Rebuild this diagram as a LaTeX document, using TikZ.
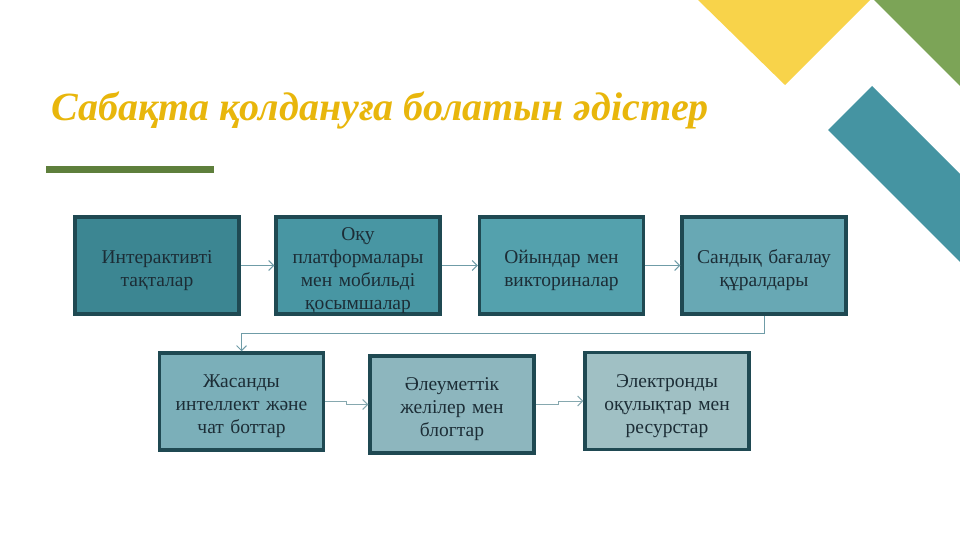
\documentclass[tikz,border=0pt]{standalone}
\usepackage{fontspec}
\setmainfont{Liberation Serif}
\usepackage{xcolor}
\usetikzlibrary{arrows.meta,positioning}

\definecolor{titlegold}{HTML}{E8B60C}
\definecolor{bargreen}{HTML}{5E7F3C}
\definecolor{decoyellow}{HTML}{F8D34A}
\definecolor{decogreen}{HTML}{7CA457}
\definecolor{decoteal}{HTML}{4594A2}
\definecolor{edgedark}{HTML}{1F4952}
\definecolor{inkdark}{HTML}{1C2D36}
\definecolor{linkteal}{HTML}{6F9CA7}
\definecolor{linkgrey}{HTML}{86A8AF}
\definecolor{fillA}{HTML}{3C8692}
\definecolor{fillB}{HTML}{4896A3}
\definecolor{fillC}{HTML}{54A1AD}
\definecolor{fillD}{HTML}{68A8B4}
\definecolor{fillE}{HTML}{7BAFB9}
\definecolor{fillF}{HTML}{8DB6BE}
\definecolor{fillG}{HTML}{A0C0C4}

\begin{document}
\begin{tikzpicture}[
    x=1pt, y=-1pt,
    tool/.style={rectangle, draw=edgedark, line width=3.5pt, minimum width=164pt, minimum height=97pt,
        inner xsep=2pt, inner ysep=0pt, text width=156pt, align=center, text=inkdark,
        font=\fontsize{19.5}{23}\selectfont, execute at begin node=\rule{0pt}{23pt}},
    link/.style={-{Straight Barb[length=5pt,width=10pt]}, draw=linkteal, line width=0.9pt}
]
    \useasboundingbox (0,0) rectangle (960,540);

    % Corner shapes
    \fill[decoyellow] (698,0) -- (870,0) -- (785,85) -- cycle;
    \fill[decogreen] (874,0) -- (960,0) -- (960,86) -- cycle;
    \fill[decoteal] (872,86) -- (828,130) -- (960,262) -- (960,174) -- cycle;

    % Title
    \node[anchor=base west, inner sep=0pt, text=titlegold, font=\fontsize{40}{48}\selectfont\bfseries\itshape] (title) at (51,121) {Сабақта қолдануға болатын әдістер};
    \fill[bargreen] (46,166) rectangle (214,173);

    % First row
    \node[tool, fill=fillA] (board) at (157,265.5) {Интерактивті\\тақталар};
    \node[tool, fill=fillB] (platform) at (358,265.5) {Оқу\\платформалары\\мен мобильді\\қосымшалар};
    \node[tool, fill=fillC] (games) at (561.5,265.5) {Ойындар мен\\викториналар};
    \node[tool, fill=fillD] (assess) at (764,265.5) {Сандық бағалау\\құралдары};

    % Second row
    \node[tool, fill=fillE] (ai) at (241.5,401.5) {Жасанды\\интеллект және\\чат боттар};
    \node[tool, fill=fillF] (social) at (452,404.5) {Әлеуметтік\\желілер мен\\блогтар};
    \node[tool, fill=fillG] (ebook) at (667,401) {Электронды\\оқулықтар мен\\ресурстар};

    % Arrows
    \draw[link] (board) -- (platform);
    \draw[link] (platform) -- (games);
    \draw[link] (games) -- (assess);
    \draw[link] (assess.south) -- ++(0,18) -| (ai.north);
    \draw[link, draw=linkgrey] (ai.east) -- ++(21,0) |- (social.west);
    \draw[link, draw=linkgrey] (social.east) -- ++(23,0) |- (ebook.west);
\end{tikzpicture}
\end{document}
